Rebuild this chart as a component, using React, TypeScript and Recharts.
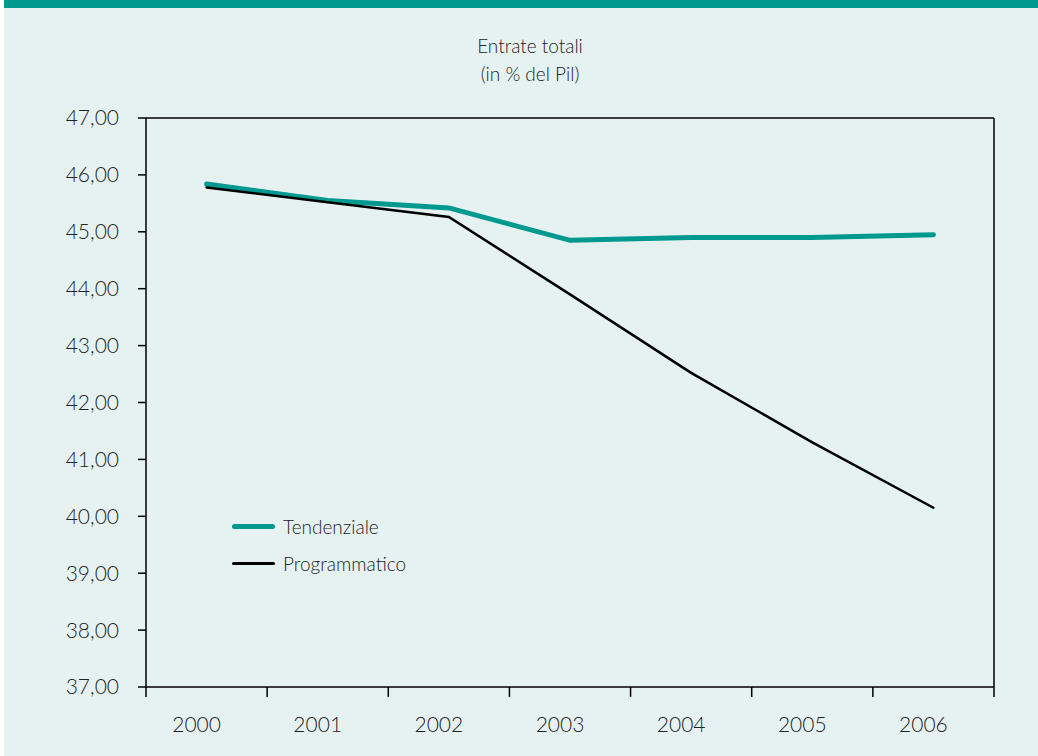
import { LineChart, Line, XAxis, YAxis } from "recharts";

const years = ["2000", "2001", "2002", "2003", "2004", "2005", "2006"];
const tendenziale = [45.84, 45.55, 45.42, 44.85, 44.9, 44.9, 44.95];
const programmatico = [45.78, 45.52, 45.26, 43.9, 42.52, 41.3, 40.15];
const yTicks = [37, 38, 39, 40, 41, 42, 43, 44, 45, 46, 47];

const TEAL = "#009990";
const BG = "#e6f2f2";
const FONT = "Lato, 'Noto Sans', sans-serif";

const data = years.map((anno, i) => ({
  anno,
  tendenziale: tendenziale[i],
  programmatico: programmatico[i],
}));

const series = [
  { key: "tendenziale", name: "Tendenziale", color: TEAL, width: 5 },
  { key: "programmatico", name: "Programmatico", color: "#000000", width: 2.5 },
];

// formato italiano con la virgola
const fmt = (v: number) => v.toFixed(2).replace(".", ",");

// tacche ai bordi delle categorie, etichetta al centro
const YearTick = (props: any) => {
  const { x, y, payload, index, visibleTicksCount } = props;
  const half = payload && payload.offset ? payload.offset : 60.5;
  const last = index === visibleTicksCount - 1;
  return (
    <g>
      <line x1={x - half} x2={x - half} y1={y} y2={y + 10} stroke="#000" strokeWidth={1.5} />
      {last && <line x1={x + half} x2={x + half} y1={y} y2={y + 10} stroke="#000" strokeWidth={1.5} />}
      <text
        x={x - 10}
        y={y + 30}
        dy="0.71em"
        textAnchor="middle"
        fontFamily={FONT}
        fontWeight={300}
        fontSize={21}
        fill="#222"
      >
        {payload.value}
      </text>
    </g>
  );
};

const LegendBox = () => (
  <div
    style={{
      position: "absolute",
      left: 228,
      top: 508,
      fontFamily: FONT,
      fontWeight: 300,
      fontSize: 19,
      color: "#222",
    }}
  >
    {series.map((s) => (
      <div key={s.key} style={{ display: "flex", alignItems: "center", height: 37 }}>
        <div
          style={{
            width: 43,
            height: s.width,
            background: s.color,
            borderRadius: 3,
            marginRight: 8,
          }}
        />
        <span>{s.name}</span>
      </div>
    ))}
  </div>
);

export default function App() {
  const tickStyle = { fontFamily: FONT, fontWeight: 300, fontSize: 21, fill: "#222" };
  return (
    <div
      style={{
        position: "absolute",
        left: 0,
        top: 0,
        width: 1038,
        height: 756,
        background: BG,
        borderLeft: "4px solid #ffffff",
        boxSizing: "border-box",
        overflow: "hidden",
      }}
    >
      <div style={{ position: "absolute", left: -4, top: 0, width: 1042, height: 8, background: TEAL }} />
      <div
        style={{
          position: "absolute",
          left: 0,
          top: 32,
          width: 1052,
          textAlign: "center",
          fontFamily: FONT,
          fontWeight: 300,
          fontSize: 19,
          lineHeight: "28px",
          color: "#222",
        }}
      >
        <div>Entrate totali</div>
        <div>(in % del Pil)</div>
      </div>
      <div style={{ position: "absolute", left: -4, top: 0 }}>
        <LineChart width={1038} height={756} data={data} margin={{ top: 117, right: 43, left: 0, bottom: 9 }}>
          <XAxis
            xAxisId="cat"
            dataKey="anno"
            scale="band"
            height={60}
            interval={0}
            axisLine={{ stroke: "#000", strokeWidth: 1.5 }}
            tickLine={false}
            tickSize={0}
            tickMargin={0}
            tick={<YearTick />}
          />
          <XAxis
            xAxisId="top"
            orientation="top"
            dataKey="anno"
            scale="band"
            height={1}
            tick={false}
            tickLine={false}
            axisLine={{ stroke: "#000", strokeWidth: 1.5 }}
          />
          <YAxis
            yAxisId="left"
            domain={[37, 47]}
            ticks={yTicks}
            width={146}
            tickSize={8}
            tickMargin={19}
            tickFormatter={fmt}
            tick={tickStyle}
            axisLine={{ stroke: "#000", strokeWidth: 1.5 }}
            tickLine={{ stroke: "#000", strokeWidth: 1.5 }}
          />
          <YAxis
            yAxisId="right"
            orientation="right"
            domain={[37, 47]}
            width={1}
            tick={false}
            tickLine={false}
            axisLine={{ stroke: "#000", strokeWidth: 1.5 }}
          />
          {series.map((s) => (
            <Line
              key={s.key}
              xAxisId="cat"
              yAxisId="left"
              type="linear"
              dataKey={s.key}
              name={s.name}
              stroke={s.color}
              strokeWidth={s.width}
              strokeLinecap="round"
              dot={false}
              activeDot={false}
              isAnimationActive={false}
            />
          ))}
        </LineChart>
      </div>
      <LegendBox />
    </div>
  );
}
